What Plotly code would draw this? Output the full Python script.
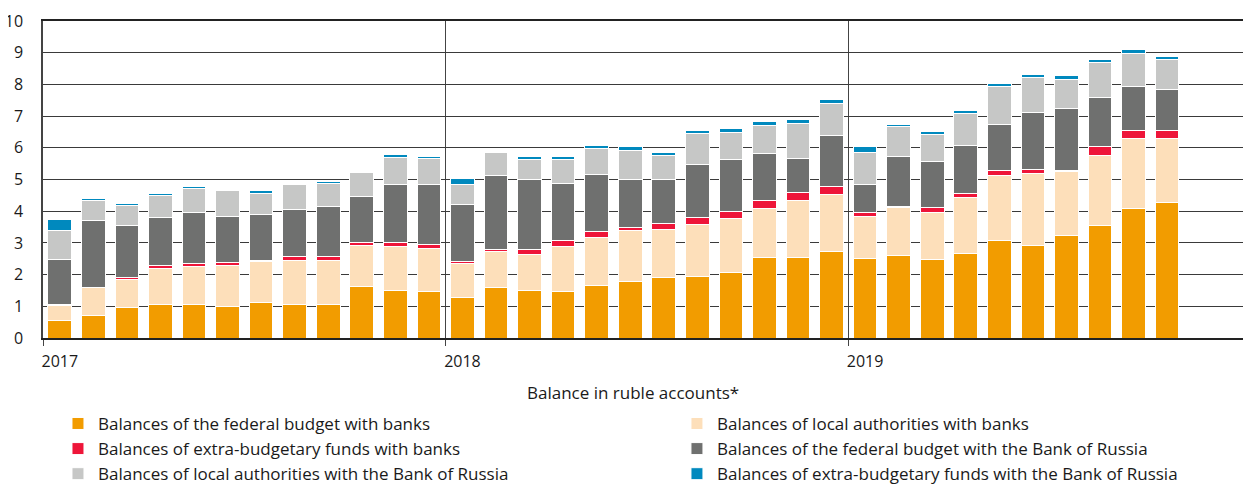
import plotly.graph_objects as go

# Months: Jan 2017 .. Oct 2019 (34 monthly bars)
months = [f"{y}-{m:02d}" for y in (2017, 2018, 2019) for m in range(1, 13)][:34]

fed_banks = [0.56, 0.72, 0.96, 1.07, 1.05, 0.98, 1.13, 1.05, 1.05, 1.61, 1.49, 1.47,
             1.28, 1.58, 1.50, 1.48, 1.66, 1.79, 1.91, 1.95, 2.07, 2.53, 2.53, 2.74,
             2.51, 2.60, 2.47, 2.67, 3.08, 2.92, 3.23, 3.55, 4.09, 4.29]
local_banks = [0.47, 0.87, 0.88, 1.12, 1.21, 1.32, 1.27, 1.39, 1.39, 1.30, 1.39, 1.35,
               1.06, 1.14, 1.13, 1.40, 1.51, 1.59, 1.52, 1.64, 1.69, 1.56, 1.80, 1.79,
               1.34, 1.52, 1.50, 1.75, 2.06, 2.26, 2.04, 2.22, 2.21, 2.00]
extra_banks = [0.02, 0.01, 0.08, 0.10, 0.08, 0.08, 0.06, 0.12, 0.13, 0.11, 0.13, 0.12,
               0.07, 0.08, 0.17, 0.20, 0.19, 0.11, 0.19, 0.22, 0.23, 0.26, 0.27, 0.25,
               0.10, 0.02, 0.14, 0.14, 0.14, 0.14, 0.02, 0.28, 0.26, 0.27]
fed_cbr = [1.43, 2.10, 1.63, 1.50, 1.62, 1.44, 1.45, 1.50, 1.58, 1.46, 1.83, 1.89,
           1.81, 2.32, 2.21, 1.81, 1.81, 1.52, 1.39, 1.67, 1.65, 1.48, 1.08, 1.61,
           0.90, 1.59, 1.46, 1.50, 1.45, 1.81, 1.94, 1.55, 1.37, 1.27]
local_cbr = [0.92, 0.65, 0.62, 0.72, 0.76, 0.82, 0.66, 0.77, 0.74, 0.73, 0.87, 0.82,
             0.64, 0.72, 0.62, 0.75, 0.80, 0.92, 0.76, 0.97, 0.86, 0.89, 1.09, 1.01,
             0.99, 0.96, 0.84, 1.03, 1.21, 1.09, 0.94, 1.11, 1.06, 0.95]
extra_cbr = [0.34, 0.05, 0.07, 0.06, 0.07, 0.06, 0.08, 0.05, 0.06, 0.06, 0.08, 0.08,
             0.16, 0.06, 0.09, 0.09, 0.11, 0.11, 0.10, 0.09, 0.10, 0.12, 0.12, 0.12,
             0.20, 0.06, 0.10, 0.10, 0.10, 0.10, 0.11, 0.09, 0.10, 0.11]

series_names = [
    "Balances of the federal budget with banks",
    "Balances of local authorities with banks",
    "Balances of extra-budgetary funds with banks",
    "Balances of the federal budget with the Bank of Russia",
    "Balances of local authorities with the Bank of Russia",
    "Balances of extra-budgetary funds with the Bank of Russia",
]
series_values = [fed_banks, local_banks, extra_banks, fed_cbr, local_cbr, extra_cbr]
colors = ["#F29C00", "#FDDFBA", "#EE1539", "#6F706F", "#C6C7C6", "#0089BE"]
legend_column = ["legend", "legend2", "legend", "legend2", "legend", "legend2"]

year_labels = ["2017", "2018", "2019"]
y_ticks = list(range(0, 11))
axis_title = "Balance in ruble accounts*"

# month slot positions (bar centred in its month)
x_pos = [i + 0.5 for i in range(len(months))]
year_label_pos = [12 * i + 0.5 for i in range(len(year_labels))]

FONT = "Open Sans"
TXT = "#1a1a1a"

fig = go.Figure()
for name, vals, col, lg in zip(series_names, series_values, colors, legend_column):
    fig.add_trace(go.Bar(
        x=x_pos, y=vals, name=name, legend=lg,
        marker=dict(color=col, line=dict(color="white", width=1)),
        customdata=months,
        hovertemplate="%{customdata}: %{y}<extra>" + name + "</extra>",
    ))

legend_common = dict(
    orientation="v",
    xanchor="left",
    y=-0.2143, yanchor="top",
    font=dict(family=FONT, size=17, color=TXT),
    traceorder="normal",
    itemclick=False,
    bgcolor="rgba(0,0,0,0)",
)

# the page adds an 8px body margin, so the figure is 8px smaller than the window
fig.update_layout(
    barmode="stack",
    bargap=0.295,
    width=1243, height=476,
    margin=dict(l=35, r=0, t=13, b=146, autoexpand=False),
    paper_bgcolor="white",
    plot_bgcolor="white",
    font=dict(family=FONT, size=16, color=TXT),
    showlegend=True,
    legend=dict(x=0.0124, **legend_common),
    legend2=dict(x=0.5248, **legend_common),
    xaxis=dict(
        range=[0, 36],
        automargin=False,
        tickmode="array",
        tickvals=year_label_pos,
        ticktext=year_labels,
        ticks="",
        showgrid=False,
        zeroline=False,
        showline=True, linecolor="#222222", linewidth=1.5, mirror=True,
        ticklabelstandoff=8,
        tickfont=dict(family=FONT, size=16, color=TXT),
        minor=dict(tick0=0, dtick=12, showgrid=True, gridcolor="#444444", gridwidth=1,
                   ticks="outside", ticklen=6, tickcolor="#444444", tickwidth=1),
    ),
    yaxis=dict(
        range=[0, 10.004],
        automargin=False,
        tickmode="array",
        tickvals=y_ticks,
        showgrid=True, gridcolor="#3a3a3a", gridwidth=1,
        zeroline=False,
        showline=True, linecolor="#444444", linewidth=1.5,
        ticks="",
        ticklabelstandoff=15,
        ticklabeloverflow="allow",
        tickfont=dict(family=FONT, size=16, color=TXT),
    ),
    annotations=[dict(
        text=axis_title, xref="paper", yref="paper",
        x=0.488, y=-0.1731, xanchor="center", yanchor="middle",
        showarrow=False, font=dict(family=FONT, size=17, color=TXT),
    )],
)

fig.write_html("out.html")
